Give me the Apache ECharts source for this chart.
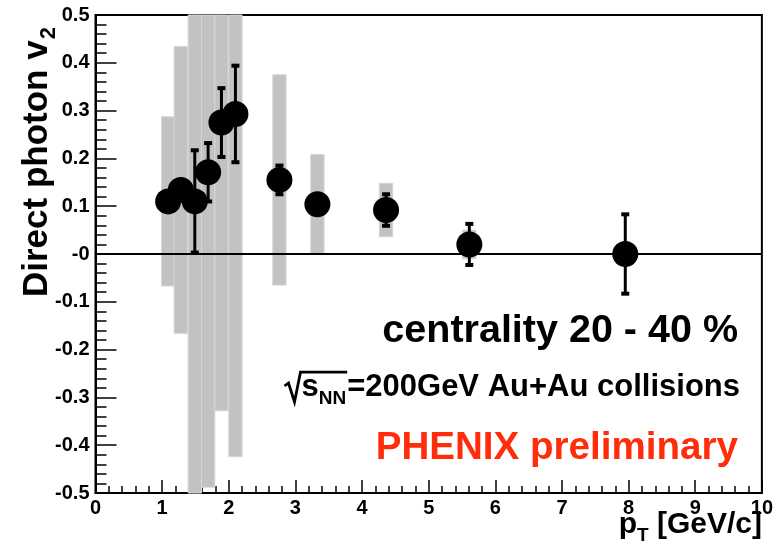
<!DOCTYPE html>
<html>
<head>
<meta charset="utf-8">
<script src="https://cdn.jsdelivr.net/npm/echarts@6/dist/echarts.min.js"></script>
<style>
  html, body { margin: 0; padding: 0; background: #fff; }
  #chart { width: 776px; height: 547px; }
</style>
</head>
<body>
<div id="chart"></div>
<script>
// Direct photon v2 vs pT, centrality 20-40 %, Au+Au at 200 GeV
const pT      = [1.09, 1.28, 1.49, 1.69, 1.89, 2.10, 2.76, 3.33, 4.36, 5.61, 7.95];
const v2      = [0.110, 0.134, 0.110, 0.171, 0.275, 0.293, 0.155, 0.104, 0.092, 0.020, 0.000];
const statErr = [0.012, 0.012, 0.107, 0.061, 0.072, 0.101, 0.030, 0.015, 0.033, 0.043, 0.083];
const sysErr  = [0.177, 0.300, 0.650, 0.659, 0.603, 0.717, 0.220, 0.104, 0.056, 0.030, 0.015];

const xTickLabels = ['0', '1', '2', '3', '4', '5', '6', '7', '8', '9', '10'];
const yTickLabels = ['-0.5', '-0.4', '-0.3', '-0.2', '-0.1', '-0', '0.1', '0.2', '0.3', '0.4', '0.5'];

const FONT = '"Liberation Sans", Arial, Helvetica, sans-serif';
const BAND_HALF_WIDTH = 0.1;   // systematic box half-width in GeV/c

const chart = echarts.init(document.getElementById('chart'), null, { renderer: 'canvas' });

// text measuring for composing sub/superscripted labels
const mctx = document.createElement('canvas').getContext('2d');
function measure(text, font) { mctx.font = font; return mctx.measureText(text).width; }
function bfont(size) { return 'bold ' + size + 'px ' + FONT; }
// horizontal text placed by its baseline (zrender draws 'middle' at the em-box centre)
function txt(text, x, baseline, size, opts) {
  opts = opts || {};
  return {
    type: 'text', x: x, y: baseline - 0.35 * size, silent: true,
    style: {
      text: text, font: bfont(size), fill: opts.fill || '#000',
      align: opts.align || 'left', verticalAlign: 'middle'
    }
  };
}
// text rotated to read bottom-to-top; baseline is a vertical line at x = baseX
function vtxt(text, baseX, startY, size) {
  return {
    type: 'text', x: baseX - 0.35 * size, y: startY, rotation: Math.PI / 2, silent: true,
    style: { text: text, font: bfont(size), fill: '#000', align: 'left', verticalAlign: 'middle' }
  };
}

function renderBand(params, api) {
  const x = api.value(0), y = api.value(1), h = api.value(2);
  const p1 = api.coord([x - BAND_HALF_WIDTH, y + h]);
  const p2 = api.coord([x + BAND_HALF_WIDTH, y - h]);
  const cs = params.coordSys;
  const rect = echarts.graphic.clipRectByRect(
    { x: p1[0], y: p1[1], width: p2[0] - p1[0], height: p2[1] - p1[1] },
    { x: cs.x, y: cs.y, width: cs.width, height: cs.height }
  );
  if (!rect) return null;
  return {
    type: 'rect', shape: rect,
    style: { fill: '#c2c2c2', stroke: '#d6d6d6', lineWidth: 1 }
  };
}

function renderErr(params, api) {
  const x = api.value(0), y = api.value(1), e = api.value(2);
  const top = api.coord([x, y + e]);
  const bot = api.coord([x, y - e]);
  const capW = 8, capH = 4;
  return {
    type: 'group',
    children: [
      { type: 'line', shape: { x1: top[0], y1: top[1], x2: bot[0], y2: bot[1] },
        style: { stroke: '#000', lineWidth: 3 } },
      { type: 'rect', shape: { x: top[0] - capW / 2, y: top[1] - capH / 2, width: capW, height: capH },
        style: { fill: '#000' } },
      { type: 'rect', shape: { x: bot[0] - capW / 2, y: bot[1] - capH / 2, width: capW, height: capH },
        style: { fill: '#000' } }
    ]
  };
}

// ---- annotation texts ----
const graphics = [];

// y-axis title, reading bottom to top
(function () {
  const size = 35, sub = 22, baseX = 50, startY = 297;
  const main = 'Direct photon v';
  const w = measure(main, bfont(size));
  graphics.push(vtxt(main, baseX, startY, size));
  graphics.push(vtxt('2', baseX + 7, startY - w - 1, sub));
})();

// x-axis title  p_T [GeV/c]
(function () {
  const size = 30, sub = 19, right = 762, base = 535;
  const tail = ' [GeV/c]';
  const wTail = measure(tail, bfont(size));
  const wT = measure('T', bfont(sub));
  const wp = measure('p', bfont(size));
  const xTail = right - wTail;
  const xT = xTail - wT;
  const xp = xT - wp;
  graphics.push(txt('p', xp, base, size));
  graphics.push(txt('T', xT, base + 7, sub));
  graphics.push(txt(tail, xTail, base, size));
})();

// centrality
graphics.push(txt('centrality 20 - 40 %', 738, 345, 39.5, { align: 'right' }));

// sqrt(s_NN)=200GeV Au+Au collisions
(function () {
  const size = 31, sub = 19, right = 740, base = 398;
  const main = '=200GeV Au+Au collisions';
  const wMain = measure(main, bfont(size));
  const wNN = measure('NN', bfont(sub));
  const ws = measure('s', bfont(size));
  const xMain = right - wMain;
  const xNN = xMain - wNN - 1;
  const xs = xNN - ws;
  graphics.push(txt(main, xMain, base, size));
  graphics.push(txt('NN', xNN, base + 7, sub));
  graphics.push(txt('s', xs, base, size));
  const topY = base - 0.74 * size - 3;
  graphics.push({
    type: 'polyline', silent: true,
    shape: { points: [
      [xs - 17, base - 12], [xs - 13, base - 15], [xs - 7, base + 4],
      [xs - 1, topY], [xNN + wNN + 1, topY]
    ] },
    style: { stroke: '#000', lineWidth: 2.8, fill: null, lineJoin: 'miter' }
  });
})();

// PHENIX preliminary
graphics.push(txt('PHENIX preliminary', 738, 462, 38.6, { align: 'right', fill: '#ff2d0a' }));

const option = {
  backgroundColor: '#fff',
  animation: false,
  grid: {
    left: 95.5, right: 13, top: 15, bottom: 54,
    show: true, borderColor: '#000', borderWidth: 2, backgroundColor: 'transparent'
  },
  xAxis: {
    type: 'value', min: 0, max: 10, interval: 1,
    axisLine: { show: true, onZero: false, lineStyle: { color: '#000', width: 2 } },
    axisTick: { show: true, inside: true, length: 13, lineStyle: { color: '#000', width: 1.5 } },
    minorTick: { show: true, splitNumber: 5, length: 7, lineStyle: { color: '#000', width: 1.5 } },
    splitLine: { show: false },
    axisLabel: {
      margin: 5, color: '#000', fontSize: 20, fontWeight: 'bold', fontFamily: FONT,
      formatter: v => xTickLabels[Math.round(v)]
    }
  },
  yAxis: {
    type: 'value', min: -0.5, max: 0.5, interval: 0.1,
    axisLine: { show: true, onZero: false, lineStyle: { color: '#000', width: 2 } },
    axisTick: { show: true, inside: true, length: 21, lineStyle: { color: '#000', width: 1.5 } },
    minorTick: { show: true, splitNumber: 5, length: 11, lineStyle: { color: '#000', width: 1.5 } },
    splitLine: { show: false },
    axisLabel: {
      margin: 6, color: '#000', fontSize: 20, fontWeight: 'bold', fontFamily: FONT,
      formatter: v => yTickLabels[Math.round((v + 0.5) * 10)]
    }
  },
  graphic: graphics,
  series: [
    {
      // zero reference line
      type: 'line', data: [], silent: true, z: 1,
      markLine: {
        silent: true, symbol: 'none', label: { show: false },
        lineStyle: { color: '#000', width: 2, type: 'solid' },
        data: [{ yAxis: 0 }]
      }
    },
    {
      // systematic uncertainty boxes
      type: 'custom', z: 2, silent: true,
      renderItem: renderBand,
      data: pT.map((x, i) => [x, v2[i], sysErr[i]])
    },
    {
      // statistical error bars
      type: 'custom', z: 3, silent: true,
      renderItem: renderErr,
      data: pT.map((x, i) => [x, v2[i], statErr[i]])
    },
    {
      type: 'scatter', z: 4, silent: true,
      symbol: 'circle', symbolSize: 26,
      itemStyle: { color: '#000', opacity: 1 },
      data: pT.map((x, i) => [x, v2[i]])
    }
  ]
};

chart.setOption(option);
</script>
</body>
</html>
